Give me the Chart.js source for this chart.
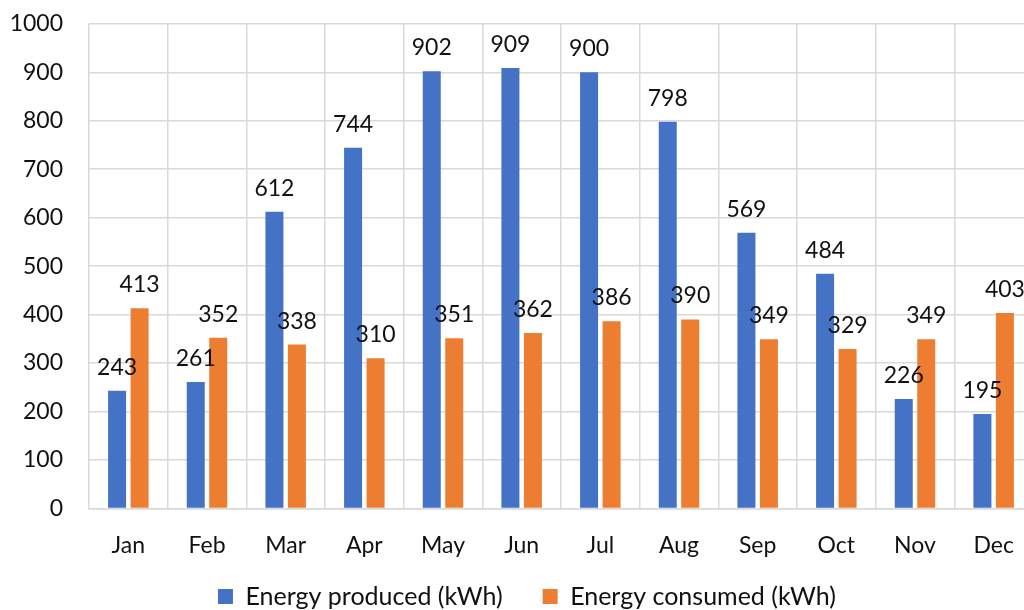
<!DOCTYPE html>
<html>
<head>
<meta charset="utf-8">
<script src="https://cdn.jsdelivr.net/npm/chart.js@4"></script>
<style>
  html, body { margin: 0; padding: 0; background: #fff; overflow: hidden; height: 610px; }
  #wrap { width: 1040px; height: 635px; margin-top: -16px; }
</style>
</head>
<body>
<div id="wrap"><canvas id="chEnergy"></canvas></div>
<script>
const months = ['Jan', 'Feb', 'Mar', 'Apr', 'May', 'Jun', 'Jul', 'Aug', 'Sep', 'Oct', 'Nov', 'Dec'];
const produced = [243, 261, 612, 744, 902, 909, 900, 798, 569, 484, 226, 195];
const consumed = [413, 352, 338, 310, 351, 362, 386, 390, 349, 329, 349, 403];

const textColor = '#111';
const gridColor = '#d9d9d9';
const fontFamily = 'Lato, "Open Sans", sans-serif';

Chart.defaults.color = textColor;
Chart.defaults.font.family = fontFamily;
Chart.defaults.font.size = 23;

// value labels above each bar
const barLabels = {
  id: 'barLabels',
  afterDatasetsDraw(chart) {
    const ctx = chart.ctx;
    ctx.save();
    ctx.font = '23px ' + fontFamily;
    ctx.fillStyle = textColor;
    ctx.textAlign = 'center';
    ctx.textBaseline = 'alphabetic';
    chart.data.datasets.forEach((ds, i) => {
      chart.getDatasetMeta(i).data.forEach((bar, j) => {
        ctx.fillText(ds.data[j], bar.x, bar.y - 16);
      });
    });
    ctx.restore();
  }
};

new Chart(document.getElementById('chEnergy'), {
  type: 'bar',
  data: {
    labels: months,
    datasets: [
      { label: 'Energy produced (kWh)', data: produced, backgroundColor: '#4472c4', categoryPercentage: 0.572, barPercentage: 0.8 },
      { label: 'Energy consumed (kWh)', data: consumed, backgroundColor: '#ed7d31', categoryPercentage: 0.572, barPercentage: 0.8 }
    ]
  },
  options: {
    responsive: true, maintainAspectRatio: false, animation: false,
    layout: { padding: { top: 0, left: 21, right: 7, bottom: 0 } },
    plugins: {
      legend: {
        position: 'bottom',
        labels: { boxWidth: 15, boxHeight: 15, padding: 40, font: { size: 25 }, color: textColor }
      },
      tooltip: { enabled: false }
    },
    scales: {
      x: {
        grid: { color: gridColor, lineWidth: 1.5, drawTicks: false },
        border: { color: gridColor, width: 1.5 },
        ticks: { padding: 23, color: textColor },
        // tighter axis box so the legend sits closer; labels may overhang it
        afterFit(scale) { scale.height -= 38; scale._computeLabelArea = () => undefined; }
      },
      y: {
        min: 0, max: 1000,
        grid: { color: gridColor, lineWidth: 1.5, drawTicks: false },
        border: { display: false },
        ticks: { stepSize: 100, padding: 26, color: textColor, callback: v => String(v) },
        afterFit(scale) { scale.width = 68; scale._computeLabelArea = () => undefined; }
      }
    }
  },
  plugins: [barLabels]
});
</script>
</body>
</html>
